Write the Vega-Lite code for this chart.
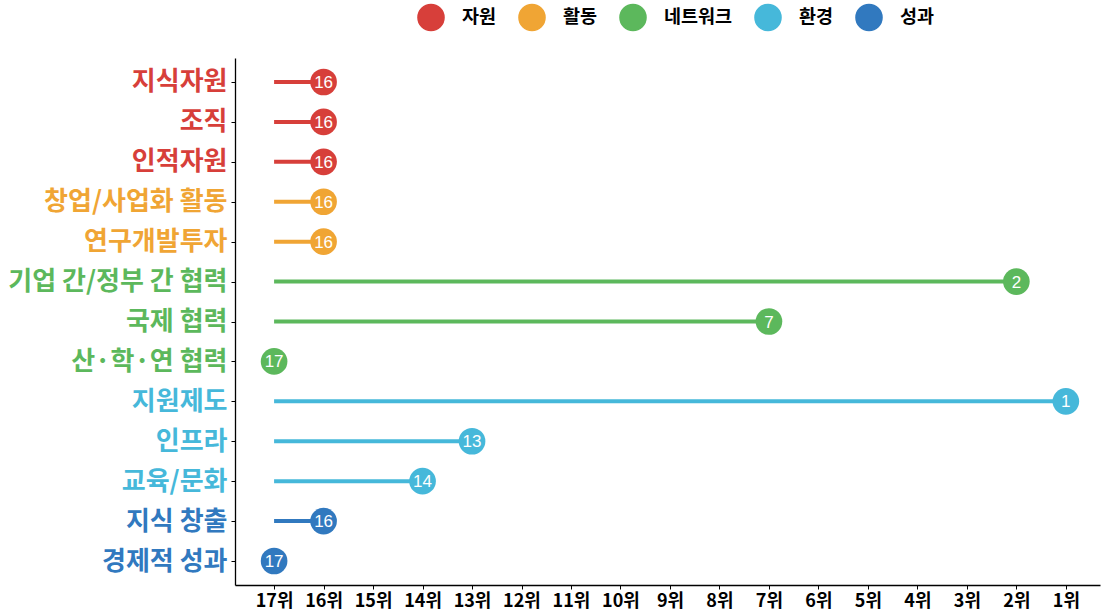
{
  "$schema": "https://vega.github.io/schema/vega-lite/v6.json",
  "autosize": {"type": "none"},
  "padding": {"left": 235, "top": 58, "right": 4, "bottom": 27},
  "width": 865,
  "height": 527,
  "background": "white",
  "config": {
    "view": {"stroke": null},
    "font": "Noto Sans CJK KR"
  },
  "data": {
    "values": [
      {"item": "지식자원", "group": "자원", "rank": 16},
      {"item": "조직", "group": "자원", "rank": 16},
      {"item": "인적자원", "group": "자원", "rank": 16},
      {"item": "창업/사업화 활동", "group": "활동", "rank": 16},
      {"item": "연구개발투자", "group": "활동", "rank": 16},
      {"item": "기업 간/정부 간 협력", "group": "네트워크", "rank": 2},
      {"item": "국제 협력", "group": "네트워크", "rank": 7},
      {"item": "산·학·연 협력", "group": "네트워크", "rank": 17},
      {"item": "지원제도", "group": "환경", "rank": 1},
      {"item": "인프라", "group": "환경", "rank": 13},
      {"item": "교육/문화", "group": "환경", "rank": 14},
      {"item": "지식 창출", "group": "성과", "rank": 16},
      {"item": "경제적 성과", "group": "성과", "rank": 17}
    ]
  },
  "encoding": {
    "y": {
      "field": "item",
      "type": "nominal",
      "sort": null,
      "scale": {"type": "point", "padding": 0.6},
      "axis": {
        "title": null,
        "domainColor": "black",
        "domainWidth": 1.3,
        "tickColor": "black",
        "tickSize": 4,
        "labelFontSize": 26,
        "labelFontWeight": "bold",
        "labelPadding": 4,
        "labelLimit": 400,
        "labelColor": {
          "condition": [
            {"test": "indexof(['지식자원','조직','인적자원'], datum.value) >= 0", "value": "#d73f3a"},
            {"test": "indexof(['창업/사업화 활동','연구개발투자'], datum.value) >= 0", "value": "#f0a534"},
            {"test": "indexof(['기업 간/정부 간 협력','국제 협력','산·학·연 협력'], datum.value) >= 0", "value": "#5cb85c"},
            {"test": "indexof(['지원제도','인프라','교육/문화'], datum.value) >= 0", "value": "#46b8da"}
          ],
          "value": "#3179bf"
        }
      }
    },
    "color": {
      "field": "group",
      "type": "nominal",
      "scale": {
        "domain": ["자원", "활동", "네트워크", "환경", "성과"],
        "range": ["#d73f3a", "#f0a534", "#5cb85c", "#46b8da", "#3179bf"]
      },
      "legend": {
        "title": null,
        "orient": "none",
        "direction": "horizontal",
        "legendX": 182,
        "legendY": -55,
        "symbolType": "circle",
        "symbolSize": 680,
        "labelFontSize": 18.5,
        "labelFontWeight": "bold",
        "labelColor": "black",
        "labelOffset": 17,
        "columnPadding": 18,
        "symbolOpacity": 1
      }
    }
  },
  "layer": [
    {
      "mark": {"type": "rule", "strokeWidth": 4},
      "encoding": {
        "x": {
          "field": "rank",
          "type": "quantitative",
          "scale": {"domain": [17.79, 0.31], "nice": false, "zero": false},
          "axis": {
            "title": null,
            "values": [17, 16, 15, 14, 13, 12, 11, 10, 9, 8, 7, 6, 5, 4, 3, 2, 1],
            "labelExpr": "datum.value + '위'",
            "domainColor": "black",
            "domainWidth": 1.3,
            "tickColor": "black",
            "tickSize": 4,
            "grid": false,
            "labelFontSize": 18,
            "labelFontWeight": "bold",
            "labelColor": "black",
            "labelPadding": 3
          }
        },
        "x2": {"datum": 17}
      }
    },
    {
      "mark": {"type": "circle", "size": 710, "opacity": 1},
      "encoding": {
        "x": {"field": "rank", "type": "quantitative"}
      }
    },
    {
      "mark": {"type": "text", "fontSize": 17, "font": "Liberation Sans", "baseline": "middle", "align": "center", "dy": 1},
      "encoding": {
        "x": {"field": "rank", "type": "quantitative"},
        "text": {"field": "rank", "type": "quantitative"},
        "color": {"value": "white"}
      }
    }
  ]
}
